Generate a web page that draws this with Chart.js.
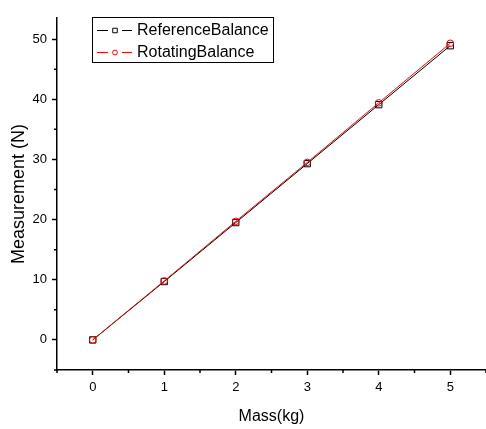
<!DOCTYPE html>
<html>
<head>
<meta charset="utf-8">
<script src="https://cdn.jsdelivr.net/npm/chart.js@4.4.1/dist/chart.umd.min.js"></script>
<style>
  html, body { margin: 0; padding: 0; background: #fff; }
  #wrap { width: 486px; height: 429px; position: relative; }
</style>
</head>
<body>
<div id="wrap"><canvas id="chart" width="486" height="429"></canvas></div>
<script>
// values
const masses = [0, 1, 2, 3, 4, 5];
const referenceBalance = [0, 9.7, 19.5, 29.3, 39.1, 48.9];
const rotatingBalance = [0, 9.8, 19.7, 29.5, 39.4, 49.3];
const seriesLabels = ['ReferenceBalance', 'RotatingBalance'];

const FONT = '"Liberation Sans", Arial, sans-serif';

const toPoints = (ys) => masses.map((m, i) => ({ x: m, y: ys[i] }));

// short minor ticks, long ticks are drawn by the grid
const minorTicks = {
  id: 'minorTicks',
  afterDraw(chart) {
    const ctx = chart.ctx;
    const xs = chart.scales.x;
    const ys = chart.scales.y;
    ctx.save();
    ctx.strokeStyle = '#000';
    ctx.lineWidth = 1.5;
    ctx.beginPath();
    xs.ticks.forEach(t => {
      if (Math.abs(t.value % 1) > 0.01 && Math.abs(t.value % 0.5) < 0.01) {
        const px = xs.getPixelForValue(t.value);
        ctx.moveTo(px, xs.top);
        ctx.lineTo(px, xs.top + 3);
      }
    });
    ys.ticks.forEach(t => {
      if (Math.abs(t.value % 10) > 0.01 && Math.abs(t.value % 5) < 0.01) {
        const py = ys.getPixelForValue(t.value);
        ctx.moveTo(ys.right, py);
        ctx.lineTo(ys.right - 3, py);
      }
    });
    ctx.stroke();
    ctx.restore();
  }
};

// framed legend inside the plot, top left
const boxLegend = {
  id: 'boxLegend',
  afterDraw(chart) {
    const ctx = chart.ctx;
    const x0 = 92, y0 = 17, w = 181, h = 45;
    ctx.save();
    ctx.strokeStyle = '#000';
    ctx.lineWidth = 1;
    ctx.strokeRect(x0 + 0.5, y0 + 0.5, w, h);
    ctx.font = '16px ' + FONT;
    ctx.textBaseline = 'middle';
    chart.data.datasets.forEach((ds, i) => {
      const cy = y0 + 13 + i * 22;
      ctx.strokeStyle = ds.borderColor;
      ctx.lineWidth = 1;
      ctx.beginPath();
      ctx.moveTo(97, cy + 0.5);
      ctx.lineTo(108, cy + 0.5);
      ctx.moveTo(122, cy + 0.5);
      ctx.lineTo(132, cy + 0.5);
      ctx.stroke();
      ctx.fillStyle = '#fff';
      Chart.helpers.drawPoint(ctx, {
        pointStyle: ds.pointStyle,
        radius: ds.pointStyle === 'rect' ? 3.2 : 2.4,
        borderWidth: 1
      }, 115, cy + 0.5);
      ctx.fillStyle = '#000';
      ctx.fillText(ds.label, 137, cy + 1);
    });
    ctx.restore();
  }
};

new Chart(document.getElementById('chart'), {
  type: 'line',
  data: {
    datasets: [
      {
        label: seriesLabels[0],
        data: toPoints(referenceBalance),
        borderColor: '#000000',
        borderWidth: 1,
        pointStyle: 'rect',
        pointRadius: 4.5,
        pointBorderColor: '#000000',
        pointBackgroundColor: 'rgba(0,0,0,0)',
        pointBorderWidth: 1,
        order: 1
      },
      {
        label: seriesLabels[1],
        data: toPoints(rotatingBalance),
        borderColor: '#ff0000',
        borderWidth: 1,
        pointStyle: 'circle',
        pointRadius: 3.3,
        pointBorderColor: '#ff0000',
        pointBackgroundColor: 'rgba(0,0,0,0)',
        pointBorderWidth: 1,
        order: 0
      }
    ]
  },
  options: {
    responsive: false,
    animation: false,
    layout: { autoPadding: false, padding: { top: 18, right: 0, left: 0, bottom: 0 } },
    plugins: {
      legend: { display: false },
      tooltip: { enabled: false }
    },
    scales: {
      x: {
        type: 'linear',
        min: -0.5,
        max: 5.5,
        afterFit: s => { s.height = 59; s.paddingLeft = 0; s.paddingRight = 0; },
        border: { display: true, color: '#000', width: 1.5 },
        grid: {
          drawOnChartArea: false,
          drawTicks: true,
          tickLength: 5,
          tickWidth: 1.5,
          tickColor: c => (Math.abs(c.tick.value % 1) < 0.01 ? '#000' : 'rgba(0,0,0,0)')
        },
        ticks: {
          stepSize: 0.5,
          autoSkip: false,
          maxRotation: 0,
          padding: 5,
          color: '#000',
          font: { family: FONT, size: 13 },
          callback: v => (Math.abs(v % 1) < 0.01 ? String(Math.round(v)) : '')
        },
        title: {
          display: true,
          text: 'Mass(kg)',
          color: '#000',
          font: { family: FONT, size: 16 },
          padding: { top: 0, bottom: 3 }
        }
      },
      y: {
        min: -5,
        max: 53.5,
        afterFit: s => { s.width = 57; s.paddingTop = 0; s.paddingBottom = 0; },
        border: { display: true, color: '#000', width: 1.5 },
        grid: {
          drawOnChartArea: false,
          drawTicks: true,
          tickLength: 5,
          tickWidth: 1.5,
          tickColor: c => (Math.abs(c.tick.value % 10) < 0.01 ? '#000' : 'rgba(0,0,0,0)')
        },
        ticks: {
          stepSize: 5,
          autoSkip: false,
          padding: 5,
          color: '#000',
          font: { family: FONT, size: 13 },
          callback: v => (Math.abs(v % 10) < 0.01 ? String(Math.round(v)) : '')
        },
        title: {
          display: true,
          text: 'Measurement (N)',
          color: '#000',
          font: { family: FONT, size: 18 },
          padding: { top: 8, bottom: 0 }
        }
      }
    }
  },
  plugins: [minorTicks, boxLegend]
});
</script>
</body>
</html>
